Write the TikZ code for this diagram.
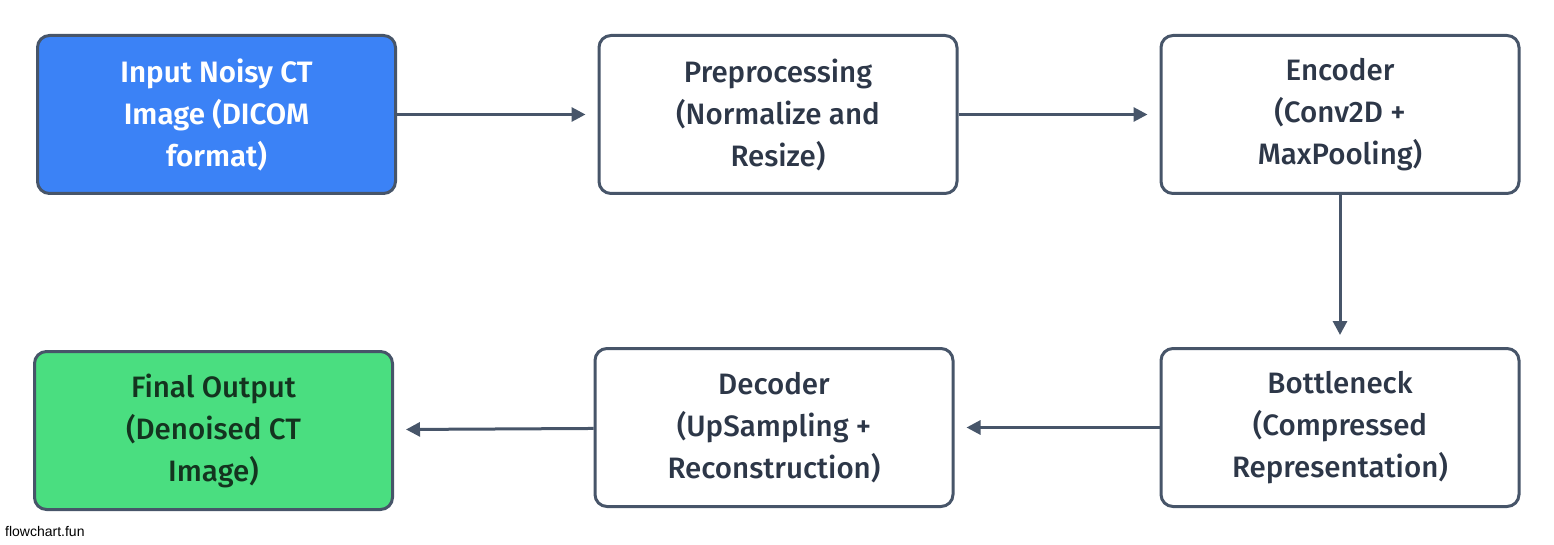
\documentclass[tikz,border=0pt]{standalone}
\usepackage{fontspec}
\setmainfont{Fira Sans}[UprightFont=* Medium, BoldFont=* SemiBold]
\newfontfamily\markfont{Liberation Sans}
\usetikzlibrary{arrows.meta}
\definecolor{edgec}{HTML}{475569}
\definecolor{textc}{HTML}{2D3748}
\definecolor{bluef}{HTML}{3B82F6}
\definecolor{greenf}{HTML}{4ADE80}
\definecolor{greent}{HTML}{14331F}
\tikzset{
  box/.style={draw=edgec, line width=3pt, rounded corners=12pt, fill=white,
    minimum width=358pt, minimum height=158pt, align=center, text=textc,
    font=\fontsize{29.5}{42}\selectfont, inner sep=0pt},
  conn/.style={draw=edgec, line width=3pt, -{Triangle[length=14pt,width=14pt]}, shorten >=12pt}
}
\begin{document}
\begin{tikzpicture}[x=1pt,y=-1pt]
\useasboundingbox (0,0) rectangle (1554,545);
\node[box, fill=bluef, text=white, font=\fontsize{29.5}{42}\selectfont\bfseries] (inp) at (216.5,114.5) {Input Noisy CT\\Image (DICOM\\format)};
\node[box] (pre) at (778,114.5) {Preprocessing\\(Normalize and\\Resize)};
\node[box] (enc) at (1340,114.5) {Encoder\\(Conv2D +\\MaxPooling)};
\node[box, fill=greenf, text=greent] (out) at (213.5,430.5) {Final Output\\(Denoised CT\\Image)};
\node[box] (dec) at (774,427.5) {Decoder\\(UpSampling +\\Reconstruction)};
\node[box] (bot) at (1340,427.5) {Bottleneck\\(Compressed\\Representation)};
\draw[conn] (inp) -- (pre);
\draw[conn] (pre) -- (enc);
\draw[conn] (enc) -- (bot);
\draw[conn] (bot) -- (dec);
\draw[conn] (dec) -- (out);
\node[anchor=base west, inner sep=0pt, font=\markfont\fontsize{14}{16}\selectfont, text=black] (mark) at (5,536) {flowchart.fun};
\end{tikzpicture}
\end{document}
